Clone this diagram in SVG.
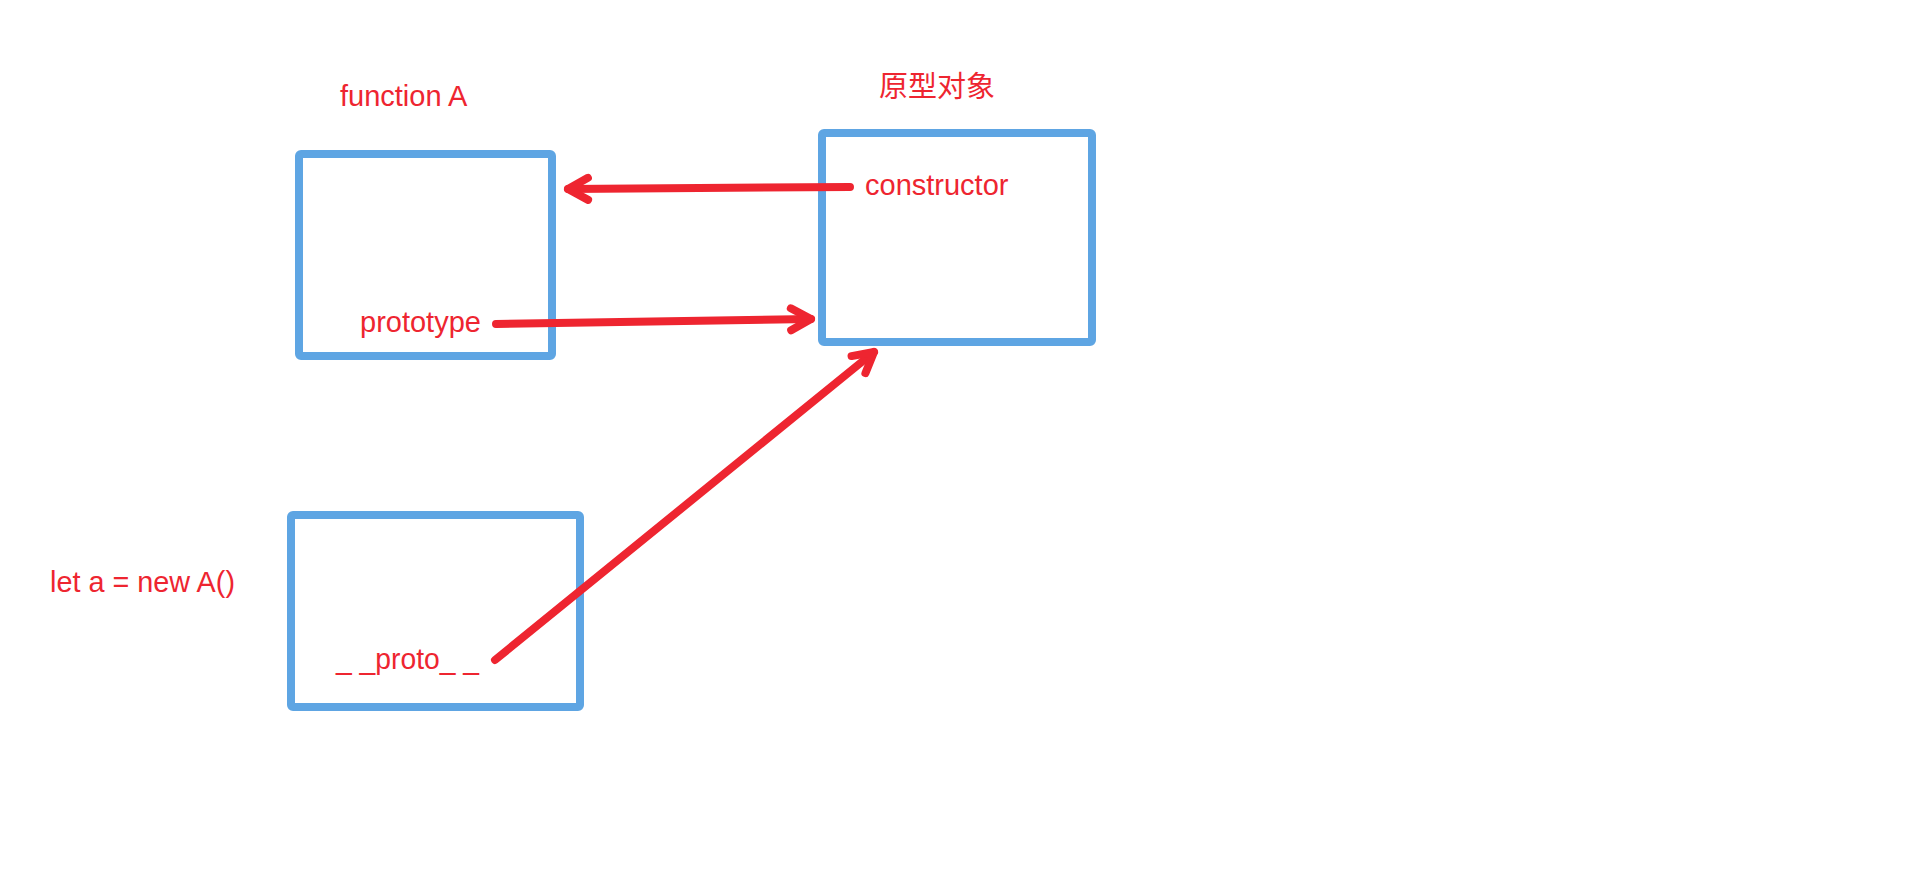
<svg xmlns="http://www.w3.org/2000/svg" width="1926" height="890" viewBox="0 0 1926 890">
  <style>
    .box { fill: none; stroke: #5EA5E3; stroke-width: 8; }
    .lbl { fill: #EE2530; font-family: "Liberation Sans", "Noto Sans CJK SC", sans-serif; font-size: 29px; }
    .conn { fill: none; stroke: #EE2530; stroke-width: 8; stroke-linecap: round; }
  </style>
  <defs>
    <marker id="chev" markerUnits="userSpaceOnUse" viewBox="-28 -18 34 36" markerWidth="34" markerHeight="36" refX="0" refY="0" orient="auto">
      <path d="M-20,-11 L0,0 L-20,11" fill="none" stroke="#EE2530" stroke-width="8" stroke-linecap="round" stroke-linejoin="round"/>
    </marker>
  </defs>
  <rect width="1926" height="890" fill="#FFFFFF"/>
  <g id="functionA">
    <rect class="box" x="299" y="154" width="253" height="202" rx="2"/>
    <text class="lbl" x="340" y="106">function A</text>
    <text class="lbl" x="360" y="332">prototype</text>
  </g>
  <g id="prototypeObject">
    <rect class="box" x="822" y="133" width="270" height="209" rx="2"/>
    <text class="lbl" x="879" y="97" font-size="28">原型对象</text>
    <text class="lbl" x="865" y="195">constructor</text>
  </g>
  <g id="instanceA">
    <rect class="box" x="291" y="515" width="289" height="192" rx="2"/>
    <text class="lbl" x="50" y="592" font-size="28" textLength="185" lengthAdjust="spacingAndGlyphs">let a = new A()</text>
    <text class="lbl" x="336" y="669" font-size="28" textLength="143" lengthAdjust="spacingAndGlyphs">_ _proto_ _</text>
  </g>
  <g id="connectors">
    <line class="conn" x1="850" y1="187" x2="568" y2="189" marker-end="url(#chev)"/>
    <line class="conn" x1="496" y1="324" x2="811" y2="319" marker-end="url(#chev)"/>
    <line class="conn" x1="495" y1="660" x2="874" y2="352" marker-end="url(#chev)"/>
  </g>
</svg>
